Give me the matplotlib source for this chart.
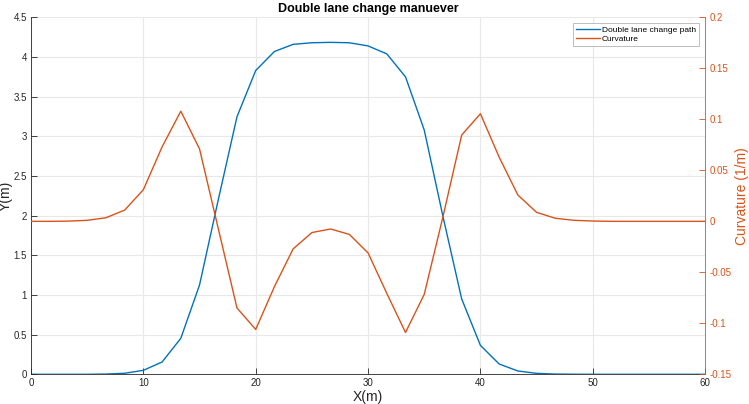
import matplotlib
matplotlib.use('Agg')
import matplotlib.pyplot as plt
import numpy as np

plt.rcParams['font.family'] = ['Liberation Sans', 'DejaVu Sans']

# 路径点: x 每 5/3 m 一个
x_pos = np.linspace(0, 60, 37)
y_path = [0, 0, 0, 0, 0.003, 0.013, 0.05, 0.155, 0.454, 1.126, 2.2, 3.247, 3.83,
          4.07, 4.16, 4.18, 4.185, 4.18, 4.14, 4.04, 3.75, 3.08, 1.99, 0.95, 0.365,
          0.13, 0.042, 0.012, 0.003, 0.001, 0, 0, 0, 0, 0, 0, 0]
curvature = [0, 0, 0.0002, 0.001, 0.0035, 0.011, 0.031, 0.073, 0.108, 0.071, -0.007,
             -0.085, -0.106, -0.064, -0.027, -0.011, -0.0075, -0.0128, -0.031, -0.0706,
             -0.109, -0.0716, 0.0045, 0.0846, 0.1055, 0.063, 0.0258, 0.0088, 0.003,
             0.001, 0.0003, 0, 0, 0, 0, 0, 0]

blue = '#0072BD'
orange = '#D95319'
axis_gray = '#262626'

fig = plt.figure(figsize=(7.49, 4.04), dpi=100)
ax = fig.add_axes([0.0414, 0.0735, 0.9, 0.8835])
ax2 = ax.twinx()

l1, = ax.plot(x_pos, y_path, color=blue, lw=1.0, label='Double lane change path')
l2, = ax2.plot(x_pos, curvature, color=orange, lw=1.0, label='Curvature')

ax.set_xlim(0, 60)
ax.set_ylim(0, 4.5)
ax.set_xticks(np.arange(0, 61, 10))
ax.set_yticks(np.arange(0, 4.51, 0.5))
ax.set_yticklabels(['0', '0.5', '1', '1.5', '2', '2.5', '3', '3.5', '4', '4.5'])
ax2.set_ylim(-0.15, 0.2)
ax2.set_yticks(np.arange(-0.15, 0.201, 0.05))
ax2.set_yticklabels(['-0.15', '-0.1', '-0.05', '0', '0.05', '0.1', '0.15', '0.2'])

ax.grid(True, color='#e8e8e8', lw=0.8)
ax.set_axisbelow(True)

ax.tick_params(direction='in', length=4, width=0.6, colors=axis_gray, labelsize=7, pad=3)
ax.tick_params(axis='x', top=False)
ax2.tick_params(direction='in', length=4, width=0.6, colors=orange, labelsize=7, pad=3)

for s in ['left', 'bottom']:
    ax.spines[s].set_color(axis_gray)
    ax.spines[s].set_linewidth(0.6)
ax.spines['top'].set_visible(False)
ax.spines['right'].set_visible(False)
ax2.spines['top'].set_visible(False)
ax2.spines['left'].set_visible(False)
ax2.spines['bottom'].set_visible(False)
ax2.spines['right'].set_color(orange)
ax2.spines['right'].set_linewidth(0.6)

ax.set_xlabel('X(m)', fontsize=10, color=axis_gray, labelpad=1)
ax.set_ylabel('Y(m)', fontsize=10, color=axis_gray)
ax.yaxis.set_label_coords(-0.027, 0.5)
ax2.set_ylabel('Curvature (1/m)', fontsize=10, color=orange)
ax2.yaxis.set_label_coords(1.045, 0.5)
ax.set_title('Double lane change manuever', fontsize=9, fontweight='bold', color='black', pad=4)

leg = ax2.legend(handles=[l1, l2], loc='upper right', fontsize=6, frameon=True, fancybox=False,
                 handlelength=2.8, handletextpad=0.3, borderpad=0.35, labelspacing=0.2,
                 borderaxespad=0, bbox_to_anchor=(0.991, 0.984))
leg.get_frame().set_edgecolor('#a0a0a0')
leg.get_frame().set_linewidth(0.6)

fig.savefig('out.png', dpi=100)
